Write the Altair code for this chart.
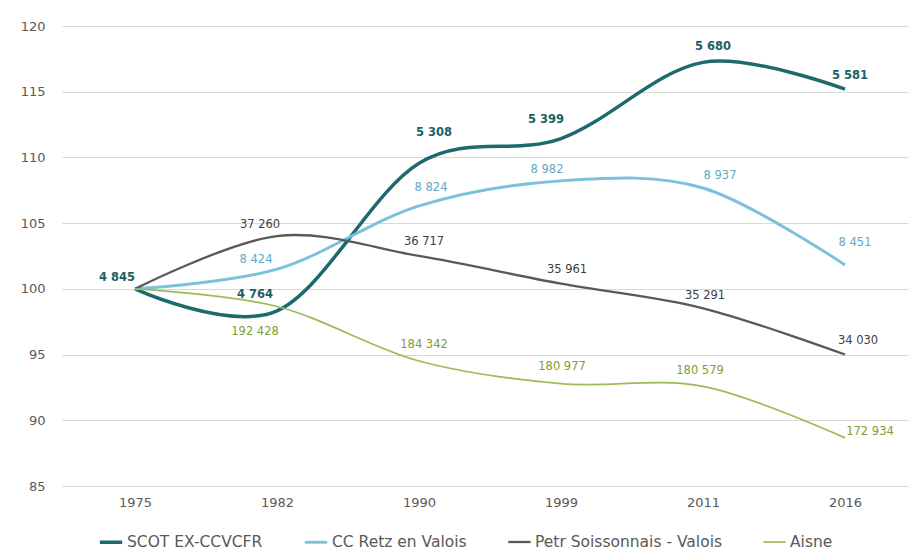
import altair as alt
import pandas as pd

years = ["1975", "1982", "1990", "1999", "2011", "2016"]
series_names = ["SCOT EX-CCVCFR", "CC Retz en Valois", "Petr Soissonnais - Valois", "Aisne"]
scot_pop = [4845, 4764, 5308, 5399, 5680, 5581]
retz_pop = [8300, 8424, 8824, 8982, 8937, 8451]
petr_pop = [35820, 37260, 36717, 35961, 35291, 34030]
aisne_pop = [195050, 192428, 184342, 180977, 180579, 172934]

line_colors = ["#1d6a6e", "#7cc0dc", "#595959", "#9bbb59"]
label_colors = ["#1d5f63", "#5fa9c6", "#404040", "#7f9e35"]
line_widths = [3.5, 1.7, 1.7, 1.7]

rows = []
for name, pops in zip(series_names, [scot_pop, retz_pop, petr_pop, aisne_pop]):
    for y, p in zip(years, pops):
        rows.append({
            "year": y,
            "series": name,
            "pop": p,
            "index": p / pops[0] * 100,
            "label": f"{p:,}".replace(",", " "),
        })
df = pd.DataFrame(rows)

FONT = "DejaVu Sans"

# label placement nudges (pixels) per (series index, year) -- styling only
label_nudge = {
    (0, "1975"): (-18, -11), (0, "1982"): (-22, -16), (0, "1990"): (15, -30),
    (0, "1999"): (-15, -19), (0, "2011"): (10, -15), (0, "2016"): (5, -13),
    (1, "1982"): (-21, -9), (1, "1990"): (12, -18), (1, "1999"): (-14, -11),
    (1, "2011"): (17, -12), (1, "2016"): (10, -22),
    (2, "1982"): (-17, -11), (2, "1990"): (5, -14), (2, "1999"): (6, -14),
    (2, "2011"): (2, -12), (2, "2016"): (13, -14),
    (3, "1982"): (-22, 25), (3, "1990"): (5, -16), (3, "1999"): (1, -17),
    (3, "2011"): (-3, -15), (3, "2016"): (25, -6),
}

x = alt.X("year:O", scale=alt.Scale(type="point", padding=0.479, align=0.537),
          axis=alt.Axis(title=None, labelAngle=0, ticks=False, domain=False, grid=False,
                        labelFontSize=13, labelColor="#595959", labelPadding=10))
y = alt.Y("index:Q", scale=alt.Scale(domain=[85, 120], nice=False, zero=False),
          axis=alt.Axis(title=None, values=[85, 90, 95, 100, 105, 110, 115, 120], grid=True,
                        gridColor="#d9d9d9", ticks=False, domain=False, labelFontSize=13,
                        labelColor="#595959", labelPadding=17))

base = alt.Chart(df).encode(x=x, y=y)

legend = alt.Legend(
    title=None, orient="none", direction="horizontal",
    legendX=36, legendY=503, symbolType="stroke",
    symbolSize=500, labelFontSize=15.5, labelColor="#595959",
    labelFont=FONT, columnPadding=36, labelOffset=3, labelLimit=0,
    symbolStrokeWidth=alt.expr("datum.value == '" + series_names[0] + "' ? 3.5 : 1.7"),
)

lines = base.mark_line(interpolate="cardinal").encode(
    color=alt.Color("series:N", scale=alt.Scale(domain=series_names, range=line_colors),
                    legend=legend),
    strokeWidth=alt.StrokeWidth("series:N", scale=alt.Scale(domain=series_names, range=line_widths),
                                legend=None),
    order=alt.Order("year:O"),
)

layers = [lines]
for (si, yr), (ddx, ddy) in label_nudge.items():
    layers.append(
        base.mark_text(dx=ddx, dy=ddy, fontSize=11.5, font=FONT,
                       fontWeight="bold" if si == 0 else "normal",
                       color=label_colors[si]).encode(text="label:N").transform_filter(
            (alt.datum.series == series_names[si]) & (alt.datum.year == yr))
    )

chart = alt.layer(*layers).properties(
    width=846, height=460,
    padding={"left": 62, "top": 26, "right": 7, "bottom": 68},
    autosize=alt.AutoSizeParams(type="none"),
).configure(font=FONT).configure_view(stroke=None)

chart.save("out.html", embed_options={"renderer": "svg", "actions": False})
